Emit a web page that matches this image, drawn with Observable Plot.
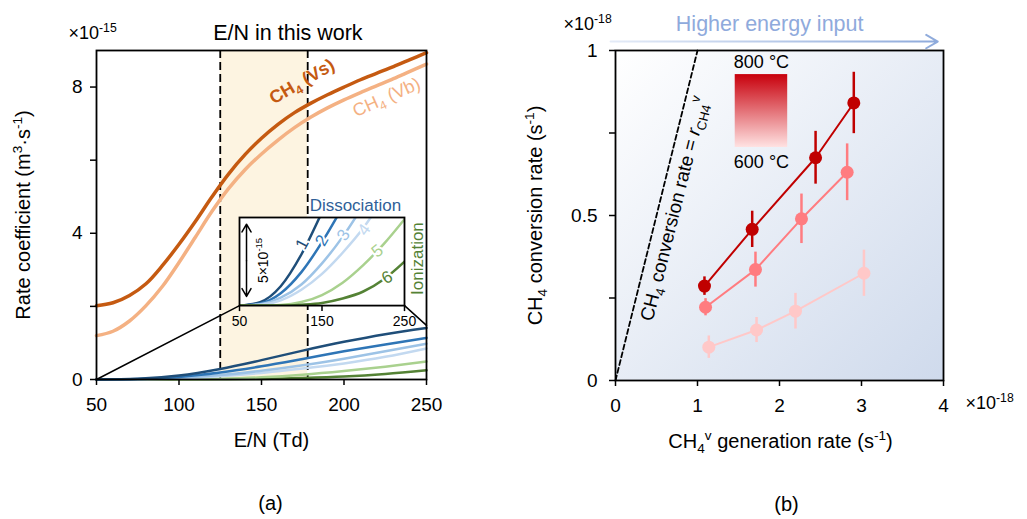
<!DOCTYPE html>
<html><head><meta charset="utf-8">
<script src="https://cdn.jsdelivr.net/npm/d3@7"></script>
<script src="https://cdn.jsdelivr.net/npm/@observablehq/plot@0.6"></script>
<style>
body{margin:0;background:#fff;}
#wrap{position:relative;width:1027px;height:519px;overflow:hidden;background:#fff;}
#wrap svg{position:absolute;}
</style></head><body><div id="wrap"></div>
<script>
// ---------- Panel (a) data ----------
const enV = [50,60,70,80,90,100,110,120,130,140,150,160,170,180,190,200,210,220,230,240,250];
const kVs = [2.02,2.1,2.3,2.62,3.12,3.7,4.33,5.0,5.62,6.15,6.6,6.98,7.3,7.56,7.79,8.0,8.2,8.38,8.56,8.75,8.94];
const kVb = [1.2,1.32,1.6,2.02,2.55,3.2,3.9,4.6,5.22,5.74,6.17,6.55,6.89,7.18,7.43,7.65,7.85,8.04,8.23,8.43,8.63];
const enGrid = [50,75,100,125,150,175,200,225,250];
const diss1 = [0,0.02,0.11,0.29,0.53,0.79,1.03,1.24,1.41];
const diss2 = [0,0.012,0.07,0.19,0.36,0.56,0.77,0.96,1.14];
const diss3 = [0,0.008,0.045,0.12,0.24,0.39,0.57,0.77,0.98];
const diss4 = [0,0.005,0.03,0.09,0.18,0.3,0.44,0.62,0.85];
const ion5  = [0,0,0.003,0.02,0.06,0.13,0.23,0.35,0.49];
const ion6  = [0,0,0,0.005,0.015,0.04,0.08,0.15,0.25];
const lowNames  = ["1","2","3","4","5","6"];
const lowColors = ["#1f4e79","#2e75b6","#9dc3e6","#c3d9f0","#a9d18e","#548235"];
const workRange = [125, 178];            // E/N in this work (Td)
const xTicksA = [50,100,150,200,250];
const yTicksA = [0,2,4,6,8];
const insetBox = {x1:136.7, x2:236.7, y1:2.02, y2:4.43};   // inset placement in panel (a) data units
const insetSource = [[50,0],[250,1.48]];                  // zoomed-region corners
const insetXTicks = [50,150,250];
const insetLabelEN = [126,150,176,201,217,229];
const insetLabelK  = [0.35,0.37,0.40,0.43,0.31,0.16];
const insetLabelRot = [-62,-60,-57,-54,-38,-30];

// ---------- Panel (b) data ----------
const gen800 = [1.085,1.667,2.44,2.906];
const conv800 = [0.286,0.458,0.675,0.841];
const err800 = [0.028,0.055,0.08,0.093];
const gen700 = [1.098,1.707,2.268,2.825];
const conv700 = [0.222,0.336,0.49,0.631];
const err700 = [0.026,0.053,0.075,0.086];
const gen600 = [1.138,1.72,2.195,3.03];
const conv600 = [0.101,0.153,0.21,0.325];
const err600 = [0.034,0.038,0.054,0.07];
const seriesColors = ["#c00000","#ff7c80","#ffc8c8"];
const identityLine = [0, 1];
const xTicksB = [0,1,2,3,4];
const yTicksB = [0,0.25,0.5,0.75,1];
const energyArrow = {x1:-0.06, x2:3.93, y:1.027};
const tempBar = {x1:1.46, x2:2.10, y1:0.706, y2:0.927};
const tempLabels = ["800 °C","600 °C"];

const FONT = '"Liberation Sans", Arial, Helvetica, sans-serif';
const wrap = document.getElementById("wrap");
const T = (txt, o) => Plot.text([txt], {lineAnchor:"middle", ...o});

// ---------- Panel (a) ----------
const lowSeries = [diss1,diss2,diss3,diss4,ion5,ion6];
const lowMarks = (clip) => lowSeries.map((vals,i) =>
  Plot.line(enGrid.map((e,j)=>({en:e,k:vals[j]})), {x:"en", y:"k", stroke:lowColors[i], strokeWidth:2.5, curve:"monotone-x", clip}));
const vsData = enV.map((e,i)=>({en:e,k:kVs[i]}));
const vbData = enV.map((e,i)=>({en:e,k:kVb[i]}));
const connectors = [
  [{en:insetSource[0][0],k:insetSource[0][1]},{en:insetBox.x1,k:insetBox.y1}],
  [{en:insetSource[1][0],k:insetSource[1][1]},{en:insetBox.x2,k:insetBox.y1}]
];

const plotA = Plot.plot({
  width:510, height:519,
  marginLeft:96, marginRight:84, marginTop:50, marginBottom:140,
  style:{fontFamily:FONT, background:"transparent", color:"#000", overflow:"visible"},
  x:{domain:[50,250]},
  y:{domain:[0,9]},
  marks:[
    Plot.rect([workRange], {x1:d=>d[0], x2:d=>d[1], y1:0, y2:9, fill:"#fdf4e1"}),
    Plot.ruleX(workRange, {stroke:"#000", strokeWidth:1.8, strokeDasharray:"8,4"}),
    ...lowMarks(false).reverse(),
    Plot.line(vbData, {x:"en", y:"k", stroke:"#f4b183", strokeWidth:3.5, curve:"catmull-rom"}),
    Plot.line(vsData, {x:"en", y:"k", stroke:"#c55a11", strokeWidth:3.5, curve:"catmull-rom"}),
    ...connectors.map(c => Plot.line(c, {x:"en", y:"k", stroke:"#000", strokeWidth:1.5})),
    Plot.frame({stroke:"#000", strokeWidth:1.8}),
    Plot.axisX({ticks:xTicksA, tickFormat:d=>String(d), tickSize:6, tickPadding:12, fontSize:19, label:null, strokeWidth:1.5}),
    Plot.axisY({ticks:yTicksA, tickFormat:d=> d%4===0 ? String(d) : "", tickSize:6, tickPadding:8, fontSize:19, label:null, strokeWidth:1.5}),
    T("E/N (Td)", {frameAnchor:"bottom", dx:10, dy:61, fontSize:20}),
    T("Rate coefficient (m^{3}·s^{-1})", {frameAnchor:"left", textAnchor:"middle", dx:-73, rotate:-90, fontSize:20}),
    T("×10^{-15}", {frameAnchor:"top-left", dx:-28, dy:-17, textAnchor:"start", fontSize:18}),
    T("E/N in this work", {x:[166], frameAnchor:"top", dy:-17, fontSize:21.5}),
    T("CH_{4} (Vs)", {x:[174.5], y:[8.15], rotate:-30, fontSize:18, fontWeight:"bold", fill:"#c55a11"}),
    T("CH_{4} (Vb)", {x:[225.8], y:[7.72], rotate:-24, fontSize:18, fill:"#f4b183"}),
    T("(a)", {frameAnchor:"bottom", dx:9, dy:124, fontSize:20})
  ]
});
plotA.style.left = "0px"; plotA.style.top = "0px";
wrap.appendChild(plotA);

// ---------- Inset ----------
const xA = plotA.scale("x"), yA = plotA.scale("y");
const bL = xA.apply(insetBox.x1), bR = xA.apply(insetBox.x2);
const bT = yA.apply(insetBox.y2), bB = yA.apply(insetBox.y1);
const iM = {l:14, r:24, t:28, b:28};
const inset = Plot.plot({
  width: (bR-bL)+iM.l+iM.r, height:(bB-bT)+iM.t+iM.b,
  marginLeft:iM.l, marginRight:iM.r, marginTop:iM.t, marginBottom:iM.b,
  style:{fontFamily:FONT, background:"transparent", color:"#000", overflow:"visible"},
  x:{domain:[50,250], axis:null},
  y:{domain:[0,0.5], axis:null},
  marks:[
    Plot.frame({fill:"white"}),
    ...lowMarks(true),
    ...lowNames.map((n,i)=> T(n, {x:[insetLabelEN[i]], y:[insetLabelK[i]], rotate:insetLabelRot[i], fill:lowColors[i], stroke:"white", strokeWidth:4, fontSize:17})),
    Plot.arrow([0], {x1:58.5, x2:58.5, y1:0.255, y2:0.462, stroke:"#000", strokeWidth:1.5, headLength:9}),
    Plot.arrow([0], {x1:58.5, x2:58.5, y1:0.255, y2:0.052, stroke:"#000", strokeWidth:1.5, headLength:9}),
    T("5×10^{-15}", {x:[79], y:[0.256], rotate:-90, fontSize:14}),
    Plot.frame({stroke:"#000", strokeWidth:1.8}),
    Plot.axisX({ticks:insetXTicks, tickFormat:d=>String(d), tickSize:6, tickPadding:4, fontSize:14, label:null, strokeWidth:1.5}),
    T("Dissociation", {x:[135], y:[0.57], textAnchor:"start", fontSize:17, fill:"#2f5f98"}),
    T("Ionization", {x:[266], y:[0.267], rotate:-90, fontSize:17, fill:"#548235"})
  ]
});
inset.style.left = (bL-iM.l)+"px"; inset.style.top = (bT-iM.t)+"px";
wrap.appendChild(inset);

// ---------- Panel (b) ----------
const mk = (g,c,e,s)=> g.map((x,i)=>({gen:x, conv:c[i], lo:c[i]-e[i], hi:c[i]+e[i], s}));
const ser = [mk(gen600,conv600,err600,"600"), mk(gen700,conv700,err700,"700"), mk(gen800,conv800,err800,"800")];
const serCol = [seriesColors[2], seriesColors[1], seriesColors[0]];
const plotB = Plot.plot({
  width:517, height:519,
  marginLeft:105, marginRight:84, marginTop:50, marginBottom:139,
  style:{fontFamily:FONT, background:"transparent", color:"#000", overflow:"visible"},
  x:{domain:[0,4]},
  y:{domain:[0,1]},
  marks:[
    Plot.frame({fill:"url(#bgGrad)"}),
    Plot.line(identityLine.map(v=>({gen:v,conv:v})), {x:"gen", y:"conv", stroke:"#000", strokeWidth:1.8, strokeDasharray:"5,3"}),
    T("CH_{4} conversion rate = ~{r}_{CH4}^{v}", {x:[0.72], y:[0.52], rotate:-76, fontSize:19}),
    Plot.rect([tempBar], {x1:"x1", x2:"x2", y1:"y1", y2:"y2", fill:"url(#cbarGrad)"}),
    T(tempLabels[0], {x:[(tempBar.x1+tempBar.x2)/2], y:[0.964], fontSize:18}),
    T(tempLabels[1], {x:[(tempBar.x1+tempBar.x2)/2], y:[0.66], fontSize:18}),
    ...ser.map((d,i)=> Plot.ruleX(d, {x:"gen", y1:"lo", y2:"hi", stroke:serCol[i], strokeWidth:2.5})),
    ...ser.map((d,i)=> Plot.line(d, {x:"gen", y:"conv", stroke:serCol[i], strokeWidth:2})),
    ...ser.map((d,i)=> Plot.dot(d, {x:"gen", y:"conv", r:6.5, fill:serCol[i]})),
    Plot.frame({stroke:"#000", strokeWidth:1.8}),
    Plot.axisX({ticks:xTicksB, tickFormat:d=>String(d), tickSize:6, tickPadding:12, fontSize:19, label:null, strokeWidth:1.5}),
    Plot.axisY({ticks:yTicksB, tickFormat:d=> (d===0||d===0.5||d===1) ? String(d) : "", tickSize:6, tickPadding:12, fontSize:19, label:null, strokeWidth:1.5}),
    Plot.arrow([energyArrow], {x1:"x1", x2:"x2", y1:"y", y2:"y", stroke:"url(#arrowGrad)", strokeWidth:2, headLength:10}),
    T("Higher energy input", {x:[1.88], frameAnchor:"top", dy:-26, fontSize:21.5, fill:"#8faadc"}),
    T("CH_{4}^{v} generation rate (s^{-1})", {frameAnchor:"bottom", dx:1, dy:61, fontSize:20}),
    T("CH_{4} conversion rate (s^{-1})", {frameAnchor:"left", textAnchor:"middle", dx:-80, rotate:-90, fontSize:20}),
    T("×10^{-18}", {frameAnchor:"top-left", dx:-52, dy:-26, textAnchor:"start", fontSize:18}),
    T("×10^{-18}", {frameAnchor:"bottom-right", dx:22, dy:23, textAnchor:"start", fontSize:18}),
    T("(b)", {frameAnchor:"bottom", dx:7, dy:124, fontSize:20})
  ]
});
plotB.style.left = "510px"; plotB.style.top = "0px";
wrap.appendChild(plotB);

// gradients
const defs = d3.select(plotB).insert("defs", ":first-child");
const g1 = defs.append("linearGradient").attr("id","bgGrad").attr("x1",0).attr("y1",0).attr("x2",1).attr("y2",1);
g1.append("stop").attr("offset","0%").attr("stop-color","#ffffff");
g1.append("stop").attr("offset","100%").attr("stop-color","#cfdaec");
const g2 = defs.append("linearGradient").attr("id","cbarGrad").attr("x1",0).attr("y1",0).attr("x2",0).attr("y2",1);
g2.append("stop").attr("offset","0%").attr("stop-color","#c8000c");
g2.append("stop").attr("offset","100%").attr("stop-color","#ffe2e2");
const g3 = defs.append("linearGradient").attr("id","arrowGrad").attr("x1",0).attr("y1",0).attr("x2",1).attr("y2",0);
g3.append("stop").attr("offset","0%").attr("stop-color","#e4ebf7");
g3.append("stop").attr("offset","100%").attr("stop-color","#8eaadb");

// rich text: ^{sup}, _{sub}, ~{italic}
function rich(root){
  root.querySelectorAll("text").forEach(el=>{
    const s = el.textContent;
    if(!/[\^_~]\{/.test(s)) return;
    const fs = parseFloat(getComputedStyle(el).fontSize) || 16;
    while(el.firstChild) el.removeChild(el.firstChild);
    const re = /([\^_~])\{([^}]*)\}|([^\^_~]+)/g;
    let m, shift = 0;
    while((m = re.exec(s))){
      const t = document.createElementNS("http://www.w3.org/2000/svg","tspan");
      let target = 0, txt;
      if(m[3] !== undefined){ txt = m[3]; }
      else {
        txt = m[2];
        if(m[1]==="^"){ target = -0.42*fs; t.setAttribute("font-size", (0.68*fs)+"px"); }
        else if(m[1]==="_"){ target = 0.24*fs; t.setAttribute("font-size", (0.68*fs)+"px"); }
        else { t.setAttribute("font-style","italic"); }
      }
      if(target !== shift){ t.setAttribute("dy", (target-shift)+"px"); shift = target; }
      t.textContent = txt;
      el.appendChild(t);
    }
  });
}
rich(wrap);
</script></body></html>
